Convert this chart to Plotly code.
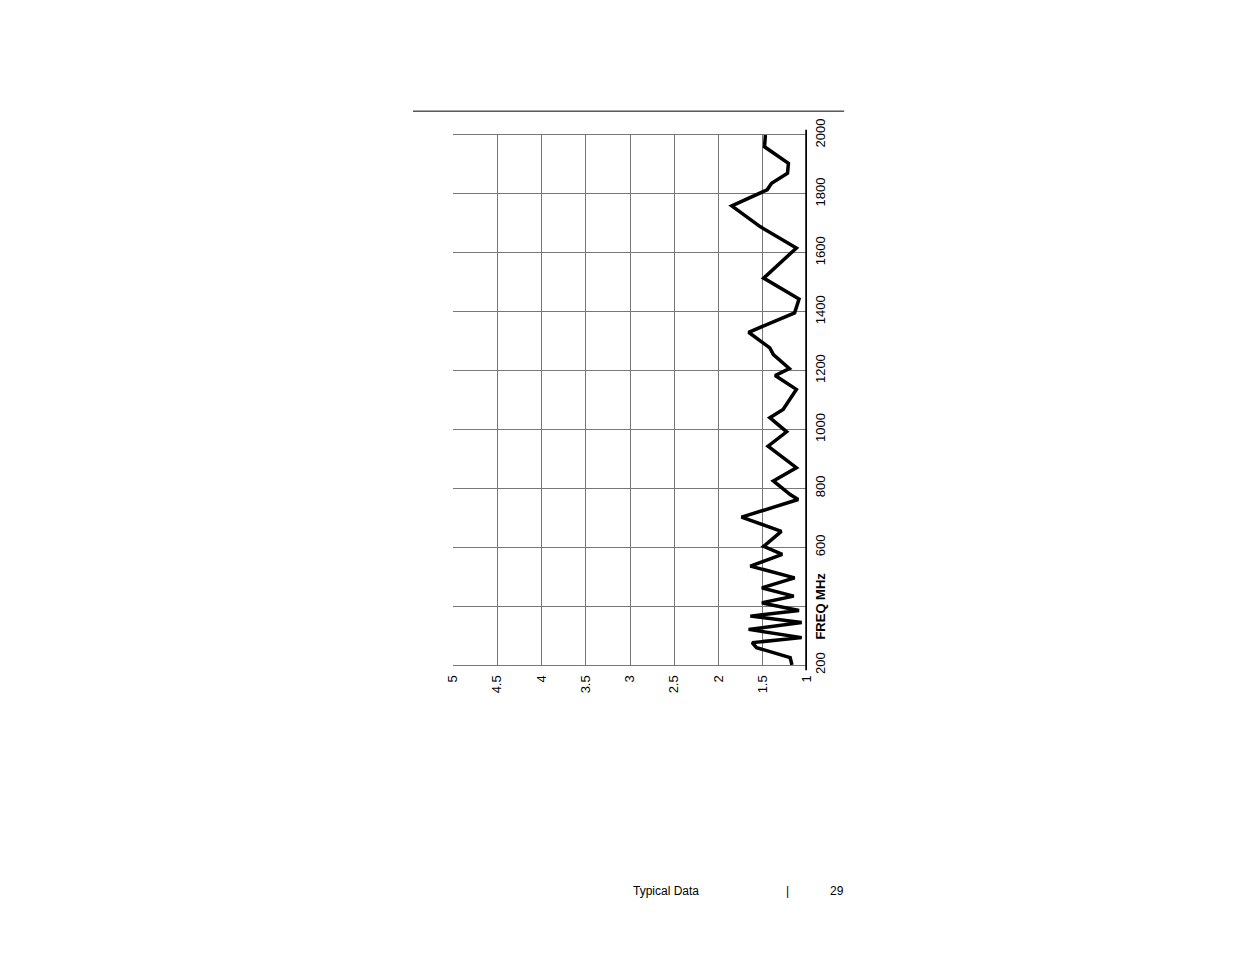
import plotly.graph_objects as go

# VSWR vs frequency (chart is drawn rotated: VSWR across, frequency up the side)
freq_mhz = [200, 225, 259, 276, 293, 321, 344, 366, 385, 411, 434, 462, 496, 536,
            576, 603, 654, 702, 762, 779, 825, 870, 943, 992, 1040, 1068, 1136,
            1183, 1207, 1254, 1277, 1330, 1396, 1443, 1514, 1616, 1689, 1759,
            1814, 1836, 1870, 1904, 1960, 2000]
vswr = [1.17, 1.19, 1.57, 1.62, 1.06, 1.66, 1.06, 1.64, 1.09, 1.51, 1.15, 1.51,
        1.14, 1.64, 1.28, 1.49, 1.29, 1.74, 1.10, 1.19, 1.38, 1.12, 1.44, 1.23,
        1.42, 1.27, 1.12, 1.36, 1.20, 1.38, 1.42, 1.66, 1.14, 1.09, 1.49, 1.12,
        1.53, 1.85, 1.45, 1.40, 1.22, 1.21, 1.48, 1.47]

vswr_ticks = [5, 4.5, 4, 3.5, 3, 2.5, 2, 1.5, 1]
vswr_labels = ["5", "4.5", "4", "3.5", "3", "2.5", "2", "1.5", "1"]
freq_ticks = [200, 400, 600, 800, 1000, 1200, 1400, 1600, 1800, 2000]
freq_labels = ["200", "", "600", "800", "1000", "1200", "1400", "1600", "1800", "2000"]

font_name = "Liberation Sans Narrow, Liberation Sans, Arial, sans-serif"

fig = go.Figure()

fig.add_trace(go.Scatter(
    x=vswr,
    y=freq_mhz,
    mode="lines",
    line=dict(color="black", width=3.5),
    cliponaxis=False,
    showlegend=False,
))

fig.update_layout(
    width=1235,
    height=954,
    margin=dict(l=445, r=436, t=127, b=297),
    paper_bgcolor="white",
    plot_bgcolor="white",
    font=dict(family=font_name, size=13, color="black"),
    xaxis=dict(
        range=[5, 1],
        tickvals=vswr_ticks,
        ticktext=vswr_labels,
        tickangle=-90,
        showgrid=True,
        gridcolor="#777",
        gridwidth=1.2,
        zeroline=False,
        showline=True,
        linecolor="#777",
        linewidth=1.2,
        mirror=True,
        ticks="",
        ticklabelstandoff=4,
    ),
    yaxis=dict(
        range=[200, 2000],
        side="right",
        tickvals=freq_ticks,
        ticktext=freq_labels,
        tickangle=-90,
        showgrid=True,
        gridcolor="#777",
        gridwidth=1.2,
        zeroline=False,
        showline=False,
        ticks="",
        ticklabelstandoff=4,
    ),
    shapes=[
        # thick VSWR = 1 axis on the right
        dict(type="line", xref="x", yref="paper", x0=1, x1=1, y0=-0.01, y1=1.01,
             line=dict(color="black", width=3.5)),
        # rule across the top of the page
        dict(type="line", xref="paper", yref="paper", x0=-0.113, x1=1.105,
             y0=1.045, y1=1.045, line=dict(color="black", width=1)),
    ],
    annotations=[
        dict(text="<b>FREQ MHz</b>", x=1, y=400, xref="paper", yref="y",
             xanchor="left", yanchor="middle", textangle=-90, xshift=4,
             showarrow=False, font=dict(family=font_name, size=13)),
        dict(text="Typical Data", x=0.503, y=-0.426, xref="paper", yref="paper",
             xanchor="left", yanchor="middle", showarrow=False,
             font=dict(family="Liberation Sans, Arial", size=12)),
        dict(text="|", x=0.935, y=-0.426, xref="paper", yref="paper",
             xanchor="left", yanchor="middle", showarrow=False,
             font=dict(family="Liberation Sans, Arial", size=12)),
        dict(text="29", x=1.059, y=-0.426, xref="paper", yref="paper",
             xanchor="left", yanchor="middle", showarrow=False,
             font=dict(family="Liberation Sans, Arial", size=12)),
    ],
)

fig.write_html("out.html")
